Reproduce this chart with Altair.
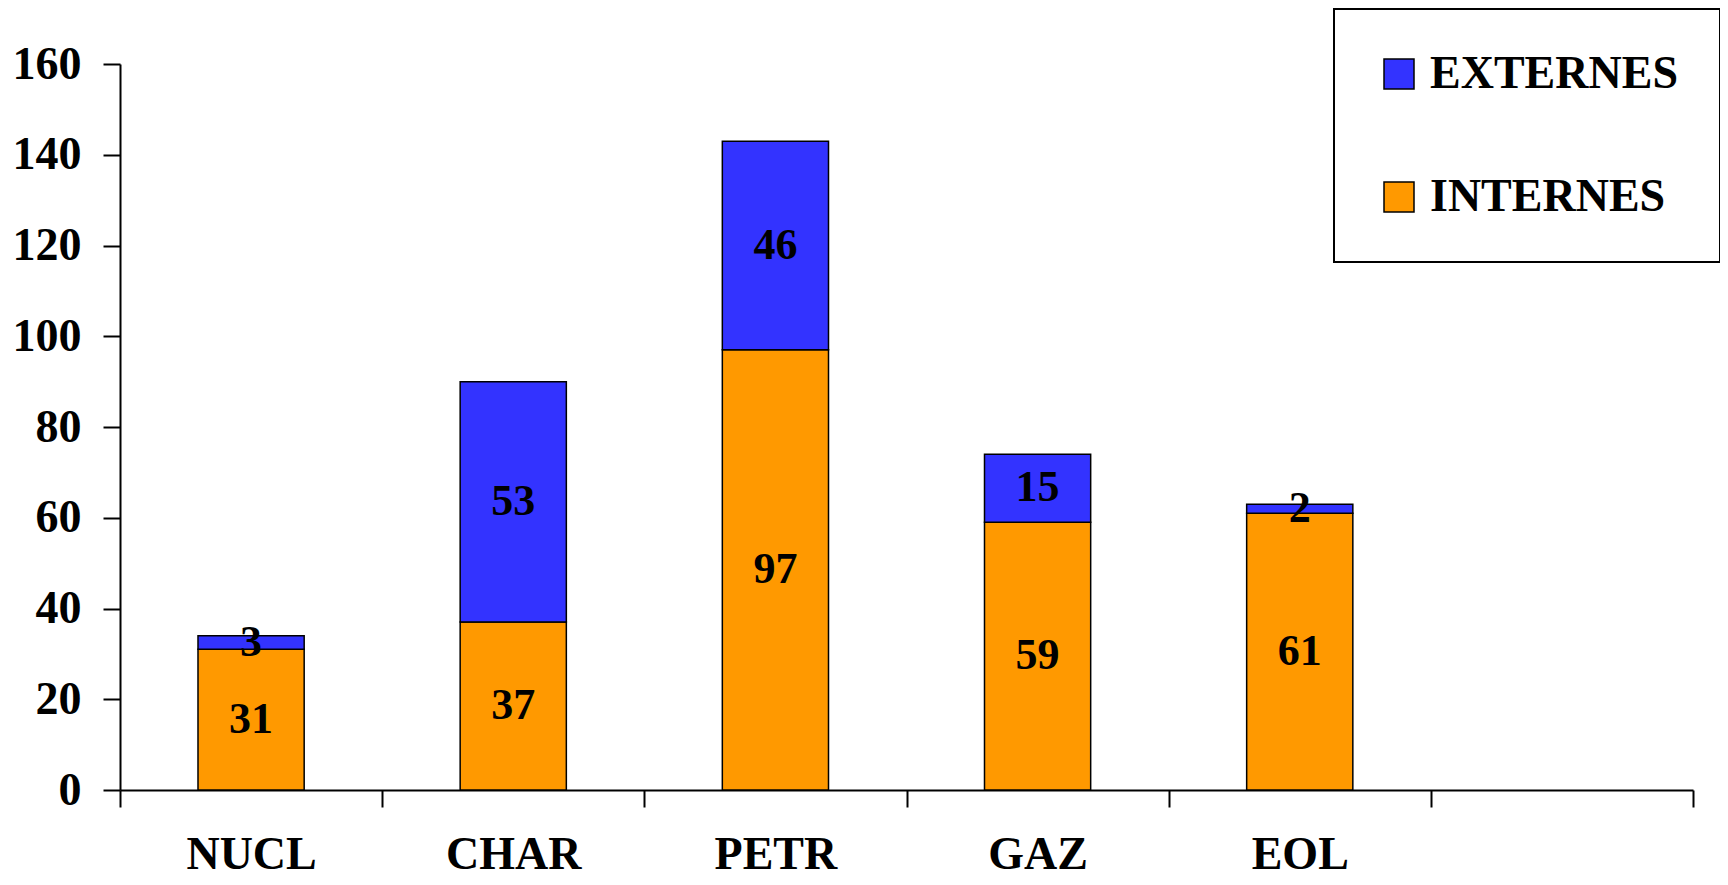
import altair as alt
import pandas as pd

categories = ["NUCL", "CHAR", "PETR", "GAZ", "EOL"]
internes = [31, 37, 97, 59, 61]
externes = [3, 53, 46, 15, 2]
x_domain = categories + [""]
series = ["EXTERNES", "INTERNES"]
colors = ["#3333FF", "#FF9900"]
y_ticks = [0, 20, 40, 60, 80, 100, 120, 140, 160]

rows = []
for c, i, e in zip(categories, internes, externes):
    rows.append({"cat": c, "serie": "INTERNES", "val": i, "ord": 0})
    rows.append({"cat": c, "serie": "EXTERNES", "val": e, "ord": 1})
df = pd.DataFrame(rows)

FONT = "Liberation Serif"

x_enc = alt.X(
    "cat:N",
    sort=x_domain,
    scale=alt.Scale(domain=x_domain, paddingInner=0, paddingOuter=0),
    axis=alt.Axis(title=None, tickBand="extent", labelAngle=0, labelPadding=25,
                  labelOverlap=False),
)

bars = alt.Chart(df).mark_bar(
    width=alt.RelativeBandSize(0.405), stroke="black", strokeWidth=1.5
).encode(
    x=x_enc,
    y=alt.Y("val:Q", stack="zero",
            scale=alt.Scale(domain=[0, 160], nice=False, zero=True),
            axis=alt.Axis(title=None, values=y_ticks, labelPadding=22, grid=False)),
    color=alt.Color("serie:N", scale=alt.Scale(domain=series, range=colors),
                    legend=alt.Legend(title=None)),
    order=alt.Order("ord:Q", sort="ascending"),
)

labels = alt.Chart(df).transform_stack(
    stack="val", as_=["y0", "y1"], groupby=["cat"],
    sort=[alt.SortField("ord", order="ascending")]
).transform_calculate(
    mid="(datum.y0 + datum.y1) / 2"
).mark_text(
    font=FONT, fontWeight="bold", fontSize=44, color="black", baseline="middle"
).encode(
    x=alt.X("cat:N", sort=x_domain),
    y=alt.Y("mid:Q", title=None),
    text=alt.Text("val:Q"),
)

chart = alt.layer(bars, labels).properties(
    width=1573,
    height=726,
    autosize=alt.AutoSizeParams(type="none"),
    padding={"left": 112, "top": 56, "right": 27, "bottom": 87},
).configure_view(
    stroke=None
).configure_axis(
    domainColor="black", domainWidth=2, tickColor="black", tickWidth=2, tickSize=17,
    labelColor="black", labelFont=FONT, labelFontWeight="bold", labelFontSize=46,
    grid=False,
).configure_legend(
    orient="none", legendX=1214, legendY=-55,
    strokeColor="black", strokeWidth=2, fillColor="white", padding=42,
    symbolType="square", symbolSize=900, symbolStrokeColor="black",
    symbolStrokeWidth=1.5, symbolOpacity=1,
    labelFont=FONT, labelFontWeight="bold", labelFontSize=46, labelColor="black",
    rowPadding=77, labelOffset=8, labelLimit=400,
)

chart.save("out.html", embed_options={"renderer": "svg", "actions": False})
